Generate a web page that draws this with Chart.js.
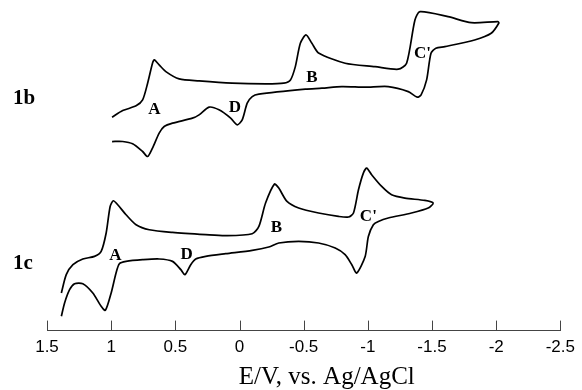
<!DOCTYPE html>
<html>
<head>
<meta charset="utf-8">
<script src="https://cdn.jsdelivr.net/npm/chart.js@4.4.1/dist/chart.umd.min.js"></script>
<style>
  html, body { margin: 0; padding: 0; background: #fff; }
  #cv { display: block; }
</style>
</head>
<body>
<canvas id="cv" width="582" height="390"></canvas>
<script>
// x: potential E (V vs Ag/AgCl), y: current (arbitrary units, traces offset vertically)
const potential1b = [0.993, 0.910, 0.806, 0.755, 0.716, 0.678, 0.664, 0.626, 0.574, 0.470, 0.315, 0.057, -0.203, -0.345, -0.397, -0.435, -0.474, -0.518, -0.564, -0.616, -0.823, -1.056, -1.237, -1.302, -1.367, -1.406, -1.625, -1.806, -2.013, -2.021,
  -1.961, -1.832, -1.600, -1.530, -1.492, -1.458, -1.415, -1.385, -1.315, -1.159, -0.979, -0.797, -0.642, -0.513, -0.151, -0.099, -0.060, -0.021, 0.018, 0.069, 0.160, 0.237, 0.315, 0.367, 0.522, 0.587, 0.626, 0.678, 0.716, 0.755, 0.833, 0.910, 0.993];
const current1b = [212.7, 219.3, 224, 230, 246.7, 266.7, 270, 265, 258.3, 251, 249, 246.7, 246, 246.7, 250, 263.3, 286.7, 295, 286.7, 277, 266.7, 263.3, 260.7, 266.7, 310, 318.3, 313.3, 307.3, 308.3, 307,
  296.7, 290, 283.3, 281.7, 276.7, 250, 235, 232.7, 238.3, 243.3, 242.7, 243.3, 241.7, 240.7, 235.7, 233.3, 226.7, 210, 205, 211.7, 220, 222.7, 215, 211.7, 206.7, 203.3, 196.7, 181.7, 173.3, 178.3, 186, 188.3, 188.3];

const potential1c = [1.388, 1.350, 1.298, 1.221, 1.130, 1.078, 1.039, 1.008, 0.983, 0.949, 0.884, 0.806, 0.703, 0.522, 0.263, 0.108, -0.099, -0.151, -0.203, -0.272, -0.306, -0.370, -0.461, -0.616, -0.771, -0.849, -0.888, -0.927, -0.965, -0.991, -1.030, -1.108, -1.185, -1.289, -1.444, -1.509,
  -1.470, -1.340, -1.159, -1.082, -1.043, -1.004, -0.979, -0.913, -0.875, -0.823, -0.746, -0.616, -0.461, -0.306, -0.228, -0.099, 0.108, 0.263, 0.341, 0.380, 0.426, 0.457, 0.522, 0.626, 0.755, 0.884, 0.936, 0.962, 1.000, 1.045, 1.078, 1.143, 1.221, 1.285, 1.324, 1.363, 1.388];
const current1c = [36.7, 55, 65, 70.7, 73.3, 78.3, 96.7, 123.3, 129, 125, 115, 105, 100, 97.3, 95, 94, 96, 103.3, 126.7, 145.7, 141.7, 128.3, 121.7, 116.7, 113.3, 112.7, 116.7, 140, 156.7, 161.7, 155, 143.3, 135, 131.7, 129.3, 126.7,
  121.7, 116.7, 111.7, 108.3, 105, 93.3, 73.3, 56.7, 65, 75, 81.7, 86.7, 88.3, 86.7, 82.7, 79.3, 76, 73.3, 70.7, 65, 55, 60, 68.3, 70.7, 70, 68.3, 66, 56.7, 36.7, 19.3, 23.3, 36.7, 46, 46, 40, 26.7, 13.3];

const tickValues = [1.5, 1, 0.5, 0, -0.5, -1, -1.5, -2, -2.5];
const tickLabels = ['1.5', '1', '0.5', '0', '-0.5', '-1', '-1.5', '-2', '-2.5'];

// peak labels and trace names, placed in data coordinates
const peakText = ['A', 'D', 'B', "C'", 'A', 'D', 'B', "C'"];
const peakX = [0.664, 0.036, -0.564, -1.425, 0.967, 0.411, -0.288, -1.004];
const peakY = [220, 222.7, 252.3, 276.7, 74, 75, 102.3, 113.3];
const traceNames = ['1b', '1c'];
const traceNameY = [231, 66];

const toPoints = (xs, ys) => xs.map((x, i) => ({ x: x, y: ys[i] }));

const annotations = {
  id: 'annotations',
  afterDraw(chart) {
    const ctx = chart.ctx, xs = chart.scales.x, ys = chart.scales.y;
    ctx.save();
    // tick marks pointing up from the axis
    ctx.strokeStyle = '#444';
    ctx.lineWidth = 1;
    tickValues.forEach(v => {
      const px = Math.round(xs.getPixelForValue(v)) + 0.5;
      ctx.beginPath();
      ctx.moveTo(px, xs.top);
      ctx.lineTo(px, xs.top - 10);
      ctx.stroke();
    });
    ctx.fillStyle = '#000';
    ctx.textAlign = 'center';
    ctx.textBaseline = 'middle';
    ctx.font = 'bold 17px "Liberation Serif", "Times New Roman", serif';
    peakText.forEach((t, i) => ctx.fillText(t, xs.getPixelForValue(peakX[i]), ys.getPixelForValue(peakY[i])));
    ctx.font = 'bold 21px "Liberation Serif", "Times New Roman", serif';
    ctx.textAlign = 'left';
    traceNames.forEach((t, i) => ctx.fillText(t, 13, ys.getPixelForValue(traceNameY[i])));
    // axis title
    ctx.font = '25px "Liberation Serif", "Times New Roman", serif';
    ctx.textAlign = 'center';
    ctx.fillText('E/V, vs. Ag/AgCl', xs.getPixelForValue(-0.68), 377);
    ctx.restore();
  }
};

new Chart(document.getElementById('cv').getContext('2d'), {
  type: 'scatter',
  data: {
    datasets: [
      { label: '1b', data: toPoints(potential1b, current1b), showLine: true, borderColor: '#000', borderWidth: 1.7, pointRadius: 0, tension: 0.25 },
      { label: '1c', data: toPoints(potential1c, current1c), showLine: true, borderColor: '#000', borderWidth: 1.7, pointRadius: 0, tension: 0.25 }
    ]
  },
  options: {
    responsive: false, animation: false, devicePixelRatio: 1,
    layout: { padding: { left: 47, right: 19, top: 0, bottom: 25 } },
    plugins: { legend: { display: false }, tooltip: { enabled: false } },
    scales: {
      x: {
        type: 'linear', min: -2.5, max: 1.5, reverse: true,
        afterBuildTicks: axis => { axis.ticks = tickValues.map(v => ({ value: v })); },
        grid: { display: false, drawTicks: false },
        border: { display: true, color: '#444', width: 1 },
        ticks: {
          autoSkip: false, maxRotation: 0, padding: 7, color: '#000',
          font: { family: '"Liberation Sans", Arial, sans-serif', size: 17 },
          callback: v => tickLabels[tickValues.indexOf(v)]
        }
      },
      y: { type: 'linear', min: -1, max: 330, display: false }
    }
  },
  plugins: [annotations]
});
</script>
</body>
</html>
